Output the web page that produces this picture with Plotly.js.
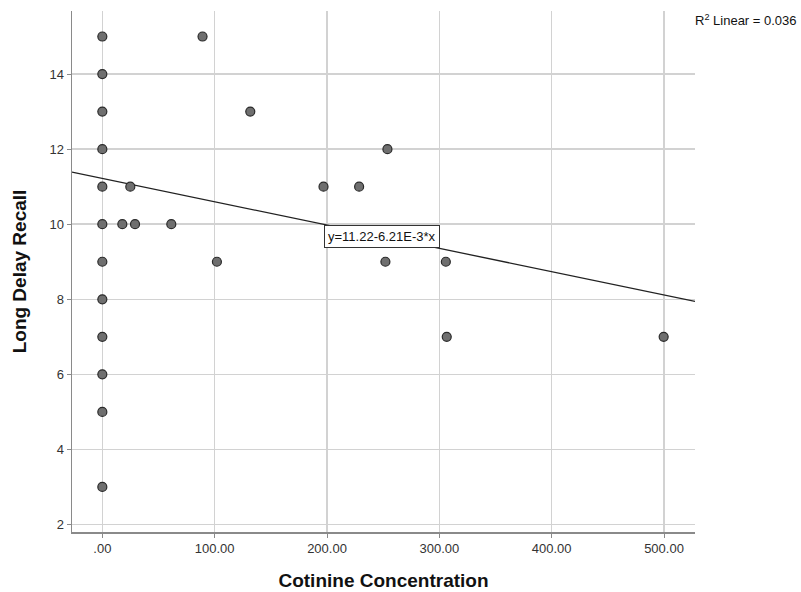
<!DOCTYPE html>
<html>
<head>
<meta charset="utf-8">
<script src="https://cdn.plot.ly/plotly-3.0.1.min.js"></script>
<style>html,body{margin:0;padding:0;background:#fff;}#chart{width:801px;height:592px;}</style>
</head>
<body>
<div id="chart"></div>
<script>
// Data
const cotinine = [0,0,0,0,0,0,0,0,0,0,0,0, 89.2,131.7,24.9,17.8,29.1,61.4,102.0,196.9,228.6,253.8,252.0,305.8,306.6,499.7];
const recall   = [3,5,6,7,8,9,10,11,12,13,14,15, 15,13,11,10,10,10,9,11,11,12,9,9,7,7];
const fitIntercept = 11.22;
const fitSlope = -6.21e-3;
const xRange = [-27, 527.6];
const yRange = [1.8, 15.68];
const xTicks = [0,100,200,300,400,500];
const xTickText = ['.00','100.00','200.00','300.00','400.00','500.00'];
const yTicks = [2,4,6,8,10,12,14];

const fitX = [xRange[0], xRange[1]];
const fitY = fitX.map(v => fitIntercept + fitSlope * v);

const traces = [
  {x: fitX, y: fitY, mode: 'lines', line: {color: '#222', width: 1.3}, hoverinfo: 'skip'},
  {x: cotinine, y: recall, mode: 'markers',
   marker: {size: 9, color: '#6f6f6f', line: {color: '#2a2a2a', width: 1.2}}, cliponaxis: false}
];

const layout = {
  width: 801, height: 592,
  margin: {l: 72, r: 106, t: 11, b: 60},
  paper_bgcolor: '#fff', plot_bgcolor: '#fff',
  showlegend: false,
  font: {family: 'Liberation Sans, Arial, sans-serif', color: '#222', size: 13},
  xaxis: {
    range: xRange, tickvals: xTicks, ticktext: xTickText,
    showgrid: true, gridcolor: '#d2d2d2', gridwidth: 1.5,
    zeroline: false, showline: true, linecolor: '#8a8a8a', linewidth: 1.5,
    ticks: 'outside', ticklen: 4, tickcolor: '#8a8a8a',
    tickfont: {size: 13, color: '#333'},
    title: {text: 'Cotinine Concentration', font: {size: 19, color: '#111', weight: 'bold'}, standoff: 18}
  },
  yaxis: {
    range: yRange, tickvals: yTicks,
    showgrid: true, gridcolor: '#d2d2d2', gridwidth: 1.5,
    zeroline: false, showline: true, linecolor: '#8a8a8a', linewidth: 1.5,
    ticks: 'outside', ticklen: 4, tickcolor: '#8a8a8a',
    tickfont: {size: 13, color: '#333'},
    title: {text: 'Long Delay Recall', font: {size: 19, color: '#111', weight: 'bold'}, standoff: 18}
  },
  annotations: [
    {x: 249, y: 9.67, xref: 'x', yref: 'y', text: 'y=11.22-6.21E-3*x', showarrow: false,
     font: {size: 13, color: '#111'}, bgcolor: '#fff', bordercolor: '#333', borderwidth: 1, borderpad: 3},
    {x: 1, y: 1, xref: 'paper', yref: 'paper', text: 'R<sup>2</sup> Linear = 0.036', showarrow: false,
     xanchor: 'left', yanchor: 'middle', font: {size: 13, color: '#111'}}
  ]
};
// place R2 label in pixel terms via paper coords
layout.annotations[1].x = (693 - 72) / (801 - 72 - 106);
layout.annotations[1].y = 1 - (20 - 11) / (592 - 11 - 60);

Plotly.newPlot('chart', traces, layout, {displayModeBar: false, staticPlot: true});
</script>
</body>
</html>
